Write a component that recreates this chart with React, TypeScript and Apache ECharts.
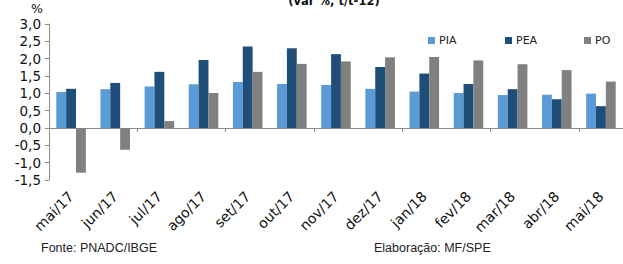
import React, { useEffect, useRef } from "react";
import * as echarts from "echarts";

const categories = ["mai/17", "jun/17", "jul/17", "ago/17", "set/17", "out/17", "nov/17", "dez/17", "jan/18", "fev/18", "mar/18", "abr/18", "mai/18"];
const pia = [1.04, 1.12, 1.2, 1.26, 1.33, 1.27, 1.24, 1.13, 1.05, 1.01, 0.95, 0.96, 0.99];
const pea = [1.13, 1.3, 1.62, 1.96, 2.35, 2.3, 2.13, 1.76, 1.57, 1.27, 1.12, 0.83, 0.63];
const po = [-1.29, -0.63, 0.2, 1.01, 1.62, 1.85, 1.92, 2.04, 2.05, 1.95, 1.84, 1.67, 1.34];

const COLORS = { PIA: "#5B9BD5", PEA: "#1F4E79", PO: "#808080" };
const AXIS = "#8c8c8c";
const FONT = "DejaVu Sans";

export default function App() {
  const ref = useRef<HTMLDivElement>(null);
  useEffect(() => {
    document.body.style.margin = "0";
    const chart = echarts.init(ref.current!, null, { renderer: "svg" });
    const legend = (name: string, left: number) => ({
      data: [name],
      left,
      top: 30,
      itemWidth: 7,
      itemHeight: 7,
      icon: "rect",
      textStyle: { fontFamily: FONT, fontSize: 11, color: "#222", padding: [0, 0, 0, -1] },
    });
    chart.setOption({
      animation: false,
      legend: [legend("PIA", 423), legend("PEA", 500), legend("PO", 579)],
      grid: { left: 49, right: -5, top: 24, bottom: 84 },
      xAxis: [
        {
          type: "category",
          data: categories,
          axisLine: { onZero: true, lineStyle: { color: AXIS } },
          axisTick: { show: true, length: 4, lineStyle: { color: AXIS } },
          axisLabel: { show: false },
        },
        {
          type: "category",
          data: categories,
          position: "bottom",
          axisLine: { show: false, onZero: false },
          axisTick: { show: false },
          axisLabel: {
            rotate: 45,
            margin: 14,
            fontFamily: FONT,
            fontSize: 14,
            color: "#111",
          },
        },
      ],
      yAxis: {
        type: "value",
        min: -1.5,
        max: 3,
        interval: 0.5,
        splitLine: { show: false },
        axisLine: { show: true, lineStyle: { color: AXIS } },
        axisTick: { show: true, length: 4, lineStyle: { color: AXIS } },
        axisLabel: {
          margin: 8,
          fontFamily: FONT,
          fontSize: 13.5,
          color: "#111",
          formatter: (v: number) => v.toFixed(1).replace(".", ","),
        },
      },
      series: [
        { name: "PIA", type: "bar", data: pia, itemStyle: { color: COLORS.PIA }, barGap: "0%", barCategoryGap: "33%" },
        { name: "PEA", type: "bar", data: pea, itemStyle: { color: COLORS.PEA }, barGap: "0%", barCategoryGap: "33%" },
        { name: "PO", type: "bar", data: po, itemStyle: { color: COLORS.PO }, barGap: "0%", barCategoryGap: "33%" },
      ],
      graphic: [
        {
          type: "text",
          x: 334,
          y: 1,
          style: { text: "(var %, t/t-12)", fontFamily: FONT, fontWeight: "bold", fontSize: 11.5, fill: "#111", align: "center", verticalAlign: "middle" },
        },
        {
          type: "text",
          x: 37,
          y: 8,
          style: { text: "%", fontFamily: FONT, fontSize: 12.5, fill: "#111", align: "center", verticalAlign: "middle" },
        },
        {
          type: "text",
          x: 41,
          y: 248,
          style: { text: "Fonte: PNADC/IBGE", fontFamily: "Liberation Sans", fontSize: 12.5, fill: "#222", verticalAlign: "middle" },
        },
        {
          type: "text",
          x: 374,
          y: 248,
          style: { text: "Elaboração: MF/SPE", fontFamily: "Liberation Sans", fontSize: 12.5, fill: "#222", verticalAlign: "middle" },
        },
      ],
    });
    return () => chart.dispose();
  }, []);
  return <div ref={ref} style={{ width: 623, height: 264 }} />;
}
